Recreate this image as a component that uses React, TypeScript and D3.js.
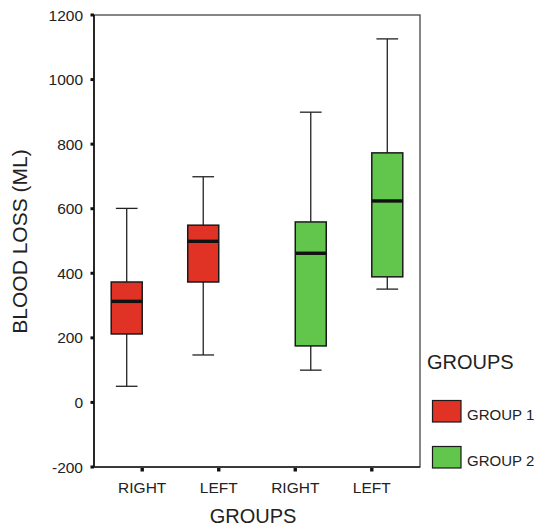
import { useEffect, useRef } from "react";
import * as d3 from "d3";

// categories along the x axis
const categories = ["RIGHT", "LEFT", "RIGHT", "LEFT"];
const groups = ["GROUP 1", "GROUP 2"];
const groupOf = ["GROUP 1", "GROUP 1", "GROUP 2", "GROUP 2"];

// box stats per category (blood loss, ml)
const whiskerLow = [50, 147, 100, 351];
const q1 = [212, 373, 175, 389];
const median = [313, 499, 462, 624];
const q3 = [373, 549, 559, 773];
const whiskerHigh = [601, 699, 899, 1126];

const yTicks = [-200, 0, 200, 400, 600, 800, 1000, 1200];

const colors = { "GROUP 1": "#e03225", "GROUP 2": "#62c64c" };

const width = 542;
const height = 526;
const font = "'Liberation Sans', Arial, Helvetica, sans-serif";

const BoxPlot = () => {
  const svgRef = useRef(null);

  useEffect(() => {
    const svg = d3.select(svgRef.current);
    svg.selectAll("*").remove();

    const margin = { top: 15, right: 122, bottom: 59, left: 94 };

    const x = d3
      .scalePoint()
      .domain(d3.range(categories.length))
      .range([margin.left, width - margin.right])
      .padding(0.63);

    const inner = d3.scaleBand().domain(groups).range([-31, 31]).padding(0);

    const y = d3
      .scaleLinear()
      .domain([-200, 1200])
      .range([height - margin.bottom, margin.top]);

    // frame
    svg
      .append("rect")
      .attr("x", margin.left)
      .attr("y", margin.top)
      .attr("width", width - margin.right - margin.left)
      .attr("height", height - margin.bottom - margin.top)
      .attr("fill", "none")
      .attr("stroke", "#444")
      .attr("stroke-width", 1.3);

    // y axis
    const yAxis = svg.append("g").attr("transform", `translate(${margin.left},0)`);
    yAxis
      .append("line")
      .attr("y1", margin.top)
      .attr("y2", height - margin.bottom)
      .attr("stroke", "#111")
      .attr("stroke-width", 1.6);
    yAxis
      .selectAll("rect.tick")
      .data(yTicks)
      .join("rect")
      .attr("class", "tick")
      .attr("x", -3.5)
      .attr("y", (d) => y(d) - 1.5)
      .attr("width", 3.5)
      .attr("height", 3)
      .attr("fill", "#111");
    yAxis
      .selectAll("text")
      .data(yTicks)
      .join("text")
      .attr("x", -11)
      .attr("y", (d) => y(d))
      .attr("dy", "0.36em")
      .attr("text-anchor", "end")
      .attr("font-size", 15.5)
      .attr("font-family", font)
      .attr("fill", "#222")
      .text((d) => d);

    // x axis
    const xAxis = svg.append("g").attr("transform", `translate(0,${height - margin.bottom})`);
    xAxis
      .append("line")
      .attr("x1", margin.left)
      .attr("x2", width - margin.right)
      .attr("stroke", "#222")
      .attr("stroke-width", 1.4);
    xAxis
      .selectAll("rect.tick")
      .data(categories)
      .join("rect")
      .attr("class", "tick")
      .attr("x", (d, i) => x(i) - 1.7)
      .attr("y", 1)
      .attr("width", 3.4)
      .attr("height", 3.5)
      .attr("fill", "#111");
    xAxis
      .selectAll("text")
      .data(categories)
      .join("text")
      .attr("x", (d, i) => x(i))
      .attr("y", 26)
      .attr("text-anchor", "middle")
      .attr("font-size", 15.5)
      .attr("font-family", font)
      .attr("fill", "#222")
      .text((d) => d);

    // axis titles
    svg
      .append("text")
      .attr("x", (margin.left + width - margin.right) / 2 - 4)
      .attr("y", 523)
      .attr("text-anchor", "middle")
      .attr("font-size", 20)
      .attr("font-family", font)
      .attr("fill", "#222")
      .text("GROUPS");
    svg
      .append("text")
      .attr("transform", `translate(27,${y(500) + 0.5}) rotate(-90)`)
      .attr("text-anchor", "middle")
      .attr("font-size", 21)
      .attr("font-family", font)
      .attr("fill", "#222")
      .text("BLOOD LOSS (ML)");

    // boxes
    const boxes = svg
      .append("g")
      .selectAll("g")
      .data(categories.map((c, i) => i))
      .join("g")
      .attr("transform", (i) => `translate(${x(i) + inner(groupOf[i])},0)`);

    const bw = inner.bandwidth();
    const cx = bw / 2;
    const capW = bw * 0.7;

    boxes
      .append("line")
      .attr("x1", cx)
      .attr("x2", cx)
      .attr("y1", (i) => y(whiskerLow[i]))
      .attr("y2", (i) => y(whiskerHigh[i]))
      .attr("stroke", "#222")
      .attr("stroke-width", 1.3);
    boxes
      .selectAll("line.cap")
      .data((i) => [whiskerLow[i], whiskerHigh[i]])
      .join("line")
      .attr("class", "cap")
      .attr("x1", cx - capW / 2)
      .attr("x2", cx + capW / 2)
      .attr("y1", (d) => y(d))
      .attr("y2", (d) => y(d))
      .attr("stroke", "#222")
      .attr("stroke-width", 1.3);
    boxes
      .append("rect")
      .attr("x", 0)
      .attr("width", bw)
      .attr("y", (i) => y(q3[i]))
      .attr("height", (i) => y(q1[i]) - y(q3[i]))
      .attr("fill", (i) => colors[groupOf[i]])
      .attr("stroke", "#1a1a1a")
      .attr("stroke-width", 1.5);
    boxes
      .append("line")
      .attr("x1", 0)
      .attr("x2", bw)
      .attr("y1", (i) => y(median[i]))
      .attr("y2", (i) => y(median[i]))
      .attr("stroke", "#111")
      .attr("stroke-width", 3.4);

    // legend
    const legend = svg.append("g").attr("transform", "translate(427,0)");
    legend
      .append("text")
      .attr("x", 0)
      .attr("y", 369)
      .attr("font-size", 20)
      .attr("font-family", font)
      .attr("fill", "#222")
      .text("GROUPS");
    const items = legend
      .selectAll("g")
      .data(groups)
      .join("g")
      .attr("transform", (d, i) => `translate(0,${400 + i * 46})`);
    items
      .append("rect")
      .attr("x", 5.5)
      .attr("y", 0.5)
      .attr("width", 28.5)
      .attr("height", 21.5)
      .attr("fill", (d) => colors[d])
      .attr("stroke", "#1a1a1a")
      .attr("stroke-width", 1.2);
    items
      .append("text")
      .attr("x", 40)
      .attr("y", 19.5)
      .attr("font-size", 15)
      .attr("font-family", font)
      .attr("fill", "#222")
      .text((d) => d);
  }, []);

  return (
    <svg
      ref={svgRef}
      width={width}
      height={height}
      style={{ display: "block", position: "fixed", top: 0, left: 0, background: "#fff" }}
    />
  );
};

export default function App() {
  return <BoxPlot />;
}
